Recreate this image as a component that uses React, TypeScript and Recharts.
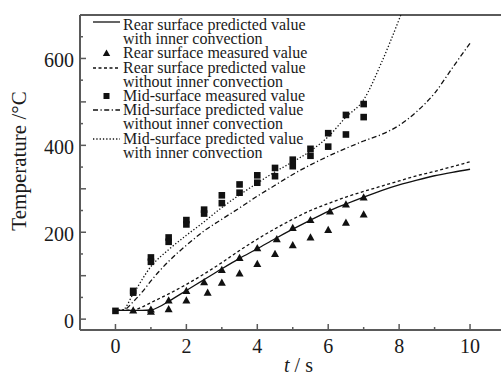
import React from 'react';
import { ComposedChart, Line, Scatter, XAxis, YAxis, Legend, ReferenceLine } from 'recharts';

const SERIF = "'Liberation Serif', 'Times New Roman', serif";
const AXIS = '#5a5a5a';
const INK = '#111';

// Rear surface predicted value with inner convection (solid)
const rearConvT = [0, 0.5, 0.75, 1, 1.25, 1.5, 2, 2.5, 3, 3.5, 4, 4.5, 5, 5.5, 6, 6.5, 7, 7.5, 8, 8.5, 9, 9.5, 10];
const rearConvV = [20, 20, 20, 21, 29, 41, 66, 91, 116, 140, 162, 185, 207, 228, 248, 265, 281, 296, 309, 320, 330, 338, 345];

// Rear surface predicted value without inner convection (dashed)
const rearNoConvT = [0, 0.5, 0.75, 1, 1.5, 2, 2.5, 3, 3.5, 4, 4.5, 5, 5.5, 6, 6.5, 7, 7.5, 8, 8.5, 9, 9.5, 10];
const rearNoConvV = [20, 21, 28, 38, 58, 80, 104, 130, 158, 184, 208, 230, 250, 266, 281, 294, 306, 318, 330, 340, 351, 362];

// Mid-surface predicted value without inner convection (dash-dot)
const midNoConvT = [0, 0.25, 0.5, 0.75, 1, 1.5, 2, 2.5, 3, 3.5, 4, 4.5, 5, 5.5, 6, 6.5, 7, 7.5, 8, 8.5, 9, 9.5, 10];
const midNoConvV = [20, 22, 40, 62, 88, 133, 170, 203, 230, 256, 283, 308, 333, 355, 375, 393, 410, 425, 446, 478, 520, 578, 635];

// Mid-surface predicted value with inner convection (dotted)
const midConvT = [0, 0.2, 0.5, 1, 1.5, 2, 2.5, 3, 3.5, 4, 4.5, 5, 5.5, 6, 6.5, 7, 7.5, 8, 8.5];
const midConvV = [20, 21, 58, 121, 160, 193, 224, 257, 286, 313, 339, 362, 387, 420, 465, 505, 590, 690, 800];

// Rear surface measured value (triangles)
const rearMeasT = [0.5, 1, 1, 1.5, 1.5, 2, 2, 2.5, 2.6, 3, 3, 3.5, 3.5, 4, 4, 4.55, 4.5, 5, 5, 5.5, 5.5, 6.05, 6, 6.5, 6.5, 7, 7];
const rearMeasV = [20, 22, 17, 43, 23, 65, 43, 85, 61, 113, 84, 141, 105, 163, 127, 184, 150, 210, 170, 228, 188, 248, 205, 264, 222, 280, 241];

// Mid-surface measured value (squares)
const midMeasT = [0, 0.5, 0.5, 1, 1, 1.5, 1.5, 2, 2, 2.5, 2.5, 3, 3, 3.5, 3.5, 4, 4, 4.5, 4.5, 5, 5, 5.5, 5.5, 6, 6, 6.5, 6.5, 7, 7];
const midMeasV = [19, 65, 61, 142, 132, 188, 178, 228, 218, 252, 243, 285, 267, 310, 291, 331, 314, 348, 329, 367, 352, 392, 376, 428, 397, 470, 425, 495, 465];

const xMajor = [0, 2, 4, 6, 8, 10];
const xTicks = [0, 1, 2, 3, 4, 5, 6, 7, 8, 9, 10];
const yTicks = [0, 50, 100, 150, 200, 250, 300, 350, 400, 450, 500, 550, 600, 650];
const yLabels = [0, 200, 400, 600];

const zip = (ts: number[], vs: number[]) => ts.map((t, i) => ({ t, T: vs[i] }));

const rearConv = zip(rearConvT, rearConvV);
const rearNoConv = zip(rearNoConvT, rearNoConvV);
const midNoConv = zip(midNoConvT, midNoConvV);
const midConv = zip(midConvT, midConvV);
const rearMeas = zip(rearMeasT, rearMeasV);
const midMeas = zip(midMeasT, midMeasV);

const textStyle = { fontFamily: SERIF, fill: '#1a1a1a' };

const XTick = (props: any) => {
  const { x, y, payload } = props;
  const v = payload.value;
  const major = xMajor.includes(v);
  return (
    <g>
      <line x1={x} x2={x} y1={y} y2={y - (major ? 6 : 3)} stroke={AXIS} strokeWidth={1.5} />
      {major && (
        <text x={x} y={y + 23} textAnchor="middle" fontSize={20} style={textStyle}>
          {v}
        </text>
      )}
    </g>
  );
};

const YTick = (props: any) => {
  const { x, y, payload } = props;
  const v = payload.value;
  const len = v % 100 === 0 ? 6 : 3;
  return (
    <g>
      <line x1={x} x2={x + len} y1={y} y2={y} stroke={AXIS} strokeWidth={1.5} />
      {yLabels.includes(v) && (
        <text x={x - 6} y={y + 9} textAnchor="end" fontSize={20} style={textStyle}>
          {v}
        </text>
      )}
    </g>
  );
};

const Tri = (p: any) => {
  const { cx, cy } = p;
  if (cx == null || cy == null) return null;
  return <polygon points={`${cx},${cy - 4.2} ${cx - 4},${cy + 3} ${cx + 4},${cy + 3}`} fill={INK} />;
};

const Sq = (p: any) => {
  const { cx, cy } = p;
  if (cx == null || cy == null) return null;
  return <rect x={cx - 3.3} y={cy - 3.3} width={6.6} height={6.6} fill={INK} />;
};

const legendEntries = [
  { kind: 'solid', lines: ['Rear surface predicted value', 'with inner convection'] },
  { kind: 'tri', lines: ['Rear surface measured value'] },
  { kind: 'dash', lines: ['Rear surface predicted value', 'without inner convection'] },
  { kind: 'sq', lines: ['Mid-surface measured value'] },
  { kind: 'dashdot', lines: ['Mid-surface predicted value', 'without inner convection'] },
  { kind: 'dot', lines: ['Mid-surface predicted value', 'with inner convection'] },
];

const LH = 14.2;

const LegendSymbol = ({ kind }: { kind: string }) => {
  const dash: Record<string, string | undefined> = {
    solid: undefined,
    dash: '3 2.5',
    dashdot: '5 2.5 1.2 2.5',
    dot: '1.3 2',
  };
  return (
    <svg width={27} height={LH} style={{ position: 'absolute', left: 0, top: 0 }}>
      {kind === 'tri' && <polygon points="13.5,3.5 9.8,10 17.2,10" fill={INK} />}
      {kind === 'sq' && <rect x={10.5} y={4} width={6} height={6} fill={INK} />}
      {kind !== 'tri' && kind !== 'sq' && (
        <line x1={0} x2={27} y1={kind === 'solid' ? 4 : 7} y2={kind === 'solid' ? 4 : 7} stroke={INK} strokeWidth={1.3} strokeDasharray={dash[kind]} />
      )}
    </svg>
  );
};

const LegendContent = () => {
  let row = 0;
  return (
    <div style={{ position: 'relative', width: 260, height: LH * 10, fontFamily: SERIF, fontSize: 16, lineHeight: `${LH}px`, color: '#1a1a1a' }}>
      {legendEntries.map((e, i) => {
        const top = row * LH;
        row += e.lines.length;
        return (
          <div key={i} style={{ position: 'absolute', left: 0, top }}>
            <div style={{ position: 'relative', width: 27, height: LH }}>
              <LegendSymbol kind={e.kind} />
            </div>
            {e.lines.map((l, j) => (
              <div key={j} style={{ position: 'absolute', left: 30, top: j * LH, whiteSpace: 'nowrap' }}>
                {l}
              </div>
            ))}
          </div>
        );
      })}
    </div>
  );
};

const YLabel = () => (
  <text x={26} y={161} transform="rotate(-90 26 161)" textAnchor="middle" fontSize={21} style={textStyle}>
    Temperature /°C
  </text>
);

const XLabel = () => (
  <text x={298.5} y={372} textAnchor="middle" fontSize={20} style={textStyle}>
    <tspan fontStyle="italic">t</tspan> / s
  </text>
);

export default function App() {
  return (
    <div style={{ position: 'absolute', left: 0, top: 0, width: 501, height: 374, overflow: 'hidden', background: '#fff' }}>
      <ComposedChart width={520} height={374} margin={{ top: 15, right: 14.5, bottom: 0, left: 0 }} style={{ fontFamily: SERIF }}>
        <XAxis
          dataKey="t"
          type="number"
          domain={[-1, 11]}
          ticks={xTicks}
          interval={0}
          height={44}
          tickSize={0}
          tickMargin={0}
          tickLine={false}
          tick={<XTick />}
          axisLine={{ stroke: AXIS, strokeWidth: 2 }}
          allowDataOverflow
          label={<XLabel />}
        />
        <YAxis
          type="number"
          domain={[-25, 700]}
          ticks={yTicks}
          interval={0}
          width={80}
          tickSize={0}
          tickMargin={0}
          tickLine={false}
          tick={<YTick />}
          axisLine={{ stroke: AXIS, strokeWidth: 2 }}
          allowDataOverflow
          label={<YLabel />}
        />
        <ReferenceLine y={700} stroke={AXIS} strokeWidth={2} />
        <Legend layout="vertical" align="center" verticalAlign="middle" wrapperStyle={{ position: 'absolute', left: 93, top: 18, width: 270 }} content={<LegendContent />} />
        <Line data={rearConv} dataKey="T" type="monotone" stroke={INK} strokeWidth={1.3} dot={false} isAnimationActive={false} />
        <Line data={rearNoConv} dataKey="T" type="monotone" stroke={INK} strokeWidth={1.3} strokeDasharray="3 2.5" dot={false} isAnimationActive={false} />
        <Line data={midNoConv} dataKey="T" type="monotone" stroke={INK} strokeWidth={1.3} strokeDasharray="5 2.5 1.2 2.5" dot={false} isAnimationActive={false} />
        <Line data={midConv} dataKey="T" type="monotone" stroke={INK} strokeWidth={1.3} strokeDasharray="1.3 2" dot={false} isAnimationActive={false} />
        <Scatter data={rearMeas} dataKey="T" shape={<Tri />} isAnimationActive={false} />
        <Scatter data={midMeas} dataKey="T" shape={<Sq />} isAnimationActive={false} />
      </ComposedChart>
    </div>
  );
}
